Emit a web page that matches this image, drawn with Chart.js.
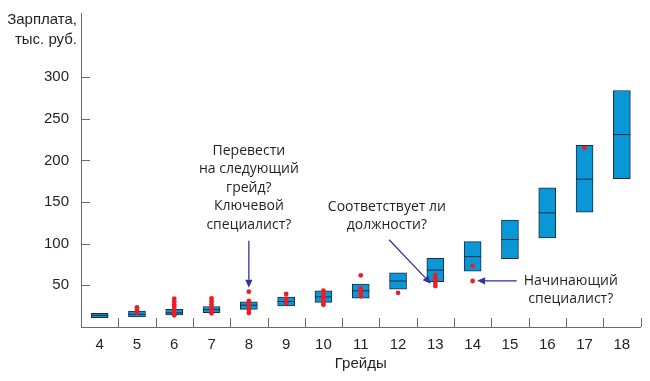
<!DOCTYPE html>
<html><head><meta charset="utf-8">
<script src="https://cdn.jsdelivr.net/npm/chart.js@4.4.1/dist/chart.umd.min.js"></script>
<style>html,body{margin:0;padding:0;background:#fff}#wrap{width:650px;height:381px}</style>
</head><body><div id="wrap"><canvas id="c" width="650" height="381"></canvas></div>
<script>
// ---- data ----
const grades   = ['4','5','6','7','8','9','10','11','12','13','14','15','16','17','18'];
const boxLow   = [11.2, 12.0, 14.4, 17.2, 21.2, 25.2, 29.6, 34.5, 45.5, 54.3, 67.0, 82.0, 107.0, 138.0, 178.0];
const boxHigh  = [16.4, 19.2, 21.2, 24.6, 30.2, 35.8, 43.5, 51.6, 65.0, 82.3, 102.5, 128.3, 167.0, 218.0, 284.0];
const boxMed   = [14.0, 15.2, 17.0, 20.8, 26.2, 30.6, 36.2, 43.5, 55.2, 68.3, 84.5, 105.0, 137.0, 177.5, 231.0];
const dotGrade = ['5','5','5', '6','6','6','6','6','6','6', '7','7','7','7','7','7', '8','8','8','8','8','8',
                  '9','9','9', '10','10','10','10','10','10', '11','11','11','11','11', '12',
                  '13','13','13','13','13', '14','14', '17'];
const dotValue = [23.6,20.4,17.0, 34.0,30.5,27.0,24.0,20.5,17.0,14.0, 34.4,30.8,27.2,23.6,20.0,16.4, 42.4,31.2,27.6,24.0,20.4,16.8,
                  39.6,34.0,28.4, 43.5,40.0,36.3,32.4,29.1,26.7, 62.0,46.4,43.2,40.0,36.8, 41.0,
                  62.4,59.1,56.0,52.8,49.2, 73.5,55.2, 215.0];
const yTickValues = [50, 100, 150, 200, 250, 300];
const yMax = 377;

// ---- styles ----
const BOX_FILL = '#0a97d8';
const BOX_EDGE = '#1d2b3a';
const DOT = '#ee1d25';
const AXIS = '#6a6a6a';
const ARROW = '#33349c';
const TXT = '#231f20';
const NOTE_FONT = '14px "Open Sans"';

function arrow(ctx, x1, y1, x2, y2) {
  const a = Math.atan2(y2 - y1, x2 - x1), L = 8, W = 3.6;
  const bx = x2 - L * Math.cos(a), by = y2 - L * Math.sin(a);
  ctx.save();
  ctx.strokeStyle = ARROW; ctx.fillStyle = ARROW; ctx.lineWidth = 1.3;
  ctx.beginPath(); ctx.moveTo(x1, y1); ctx.lineTo(bx, by); ctx.stroke();
  ctx.beginPath();
  ctx.moveTo(x2, y2);
  ctx.lineTo(bx + W * Math.sin(a), by - W * Math.cos(a));
  ctx.lineTo(bx - W * Math.sin(a), by + W * Math.cos(a));
  ctx.closePath(); ctx.fill();
  ctx.restore();
}

const decor = {
  id: 'decor',
  afterDraw(chart) {
    const ctx = chart.ctx, xs = chart.scales.x, ys = chart.scales.y;
    const n = grades.length;
    ctx.save();
    ctx.strokeStyle = AXIS; ctx.lineWidth = 1;
    // inward tick marks on x axis (category boundaries)
    for (let i = 1; i <= n; i++) {
      const x = Math.round(xs.left + i * xs.width / n) + 0.5;
      ctx.beginPath(); ctx.moveTo(x, ys.bottom); ctx.lineTo(x, ys.bottom - 9); ctx.stroke();
    }
    // inward tick marks on y axis
    yTickValues.forEach(v => {
      const y = Math.round(ys.getPixelForValue(v)) + 0.5;
      ctx.beginPath(); ctx.moveTo(xs.left, y); ctx.lineTo(xs.left + 9, y); ctx.stroke();
    });
    // axis titles
    ctx.fillStyle = TXT;
    ctx.font = '15px "Liberation Sans"';
    ctx.textAlign = 'right'; ctx.textBaseline = 'middle';
    ctx.fillText('Зарплата,', 77, 20);
    ctx.fillText('тыс. руб.', 77, 40);
    ctx.textAlign = 'center';
    ctx.fillText('Грейды', (xs.left + xs.right) / 2, 364);

    // annotations
    const X = i => xs.getPixelForValue(i);
    const Y = v => ys.getPixelForValue(v);
    ctx.font = NOTE_FONT; ctx.textAlign = 'center'; ctx.textBaseline = 'middle';
    const c1 = X(4);
    ['Перевести', 'на следующий', 'грейд?', 'Ключевой', 'специалист?']
      .forEach((t, k) => ctx.fillText(t, c1, 151 + k * 18.5));
    const c2 = X(7.7);
    ctx.fillText('Соответствует ли', c2, 207);
    ctx.fillText('должности?', c2, 225);
    const c3 = X(12.63);
    ctx.fillText('Начинающий', c3, 281);
    ctx.fillText('специалист?', c3, 299);

    arrow(ctx, X(4), Y(103.6), X(4), Y(47));
    arrow(ctx, X(7.76), Y(104.8), X(8.88), Y(52));
    arrow(ctx, X(11.18), Y(55.4), X(10.12), Y(55.4));
    ctx.restore();
  }
};

new Chart(document.getElementById('c'), {
  type: 'bar',
  data: {
    labels: grades,
    datasets: [
      { type: 'line', data: dotGrade.map((g, i) => ({ x: g, y: dotValue[i] })), showLine: false,
        pointRadius: 2.4, pointBackgroundColor: DOT, pointBorderWidth: 0, order: 1 },
      { type: 'line', data: boxMed, showLine: false, pointStyle: 'line', pointRadius: 8.5,
        pointBorderColor: BOX_EDGE, pointBorderWidth: 1, order: 2 },
      { type: 'bar', data: boxLow.map((l, i) => [l, boxHigh[i]]), backgroundColor: BOX_FILL,
        borderColor: BOX_EDGE, borderWidth: 1, borderSkipped: false, barThickness: 17, order: 3 }
    ]
  },
  options: {
    responsive: false, animation: false, devicePixelRatio: 1,
    layout: { padding: { top: 13, right: 9, left: 0, bottom: 0 } },
    plugins: { legend: { display: false }, tooltip: { enabled: false } },
    scales: {
      x: {
        type: 'category', offset: true,
        grid: { display: false },
        border: { display: true, color: AXIS, width: 1 },
        ticks: { color: TXT, padding: 1, font: { family: '"Liberation Sans Narrow", "Liberation Sans"', size: 15 } },
        afterFit: s => { s.height = 54; }
      },
      y: {
        min: 0, max: yMax,
        grid: { display: false },
        border: { display: true, color: AXIS, width: 1 },
        ticks: { stepSize: 50, color: TXT, padding: 4, font: { family: '"Liberation Sans"', size: 15 },
                 callback: v => (yTickValues.includes(v) ? String(v) : '') },
        afterFit: s => { s.width = 81; }
      }
    }
  },
  plugins: [decor]
});
</script></body></html>
